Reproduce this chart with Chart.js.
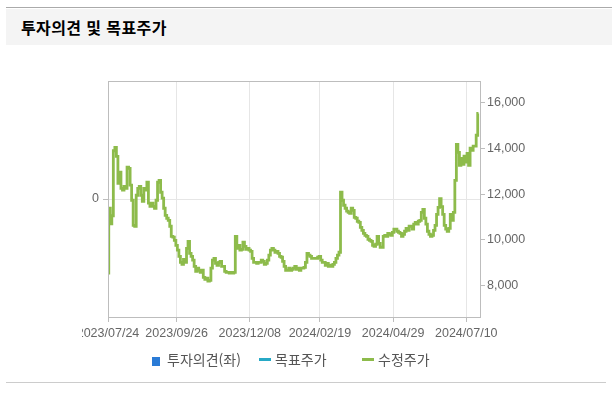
<!DOCTYPE html>
<html lang="ko">
<head>
<meta charset="utf-8">
<title>투자의견 및 목표주가</title>
<script src="https://cdn.jsdelivr.net/npm/chart.js@4.4.1/dist/chart.umd.min.js"></script>
<style>
    html, body {
        margin: 0;
        padding: 0;
        background: #fff;
    }
    #page {
        position: relative;
        width: 612px;
        height: 394px;
        overflow: hidden;
        font-family: "Noto Sans CJK KR", "Noto Sans", sans-serif;
    }
    #topLine {
        position: absolute;
        left: 6px;
        right: 0;
        top: 7px;
        height: 1px;
        background: #aaa;
    }
    #header {
        position: absolute;
        left: 6px;
        right: 0;
        top: 9px;
        height: 36px;
        background: #f4f4f4;
    }
    #header h2 {
        margin: 0;
        position: absolute;
        left: 15px;
        top: 8px;
        font-size: 16px;
        line-height: 20px;
        font-weight: bold;
        letter-spacing: 0.4px;
        color: #000;
    }
    #chartBox {
        position: absolute;
        left: 0;
        top: 0;
        width: 612px;
        height: 394px;
        clip-path: inset(0 0 0 82px);
    }
    #legend {
        position: absolute;
        top: 350px;
        left: 0;
        width: 612px;
        height: 18px;
        font-size: 14px;
        color: #555;
    }
    #legend span {
        position: absolute;
        top: 0;
        line-height: 18px;
        white-space: nowrap;
    }
    .swatch-box {
        display: inline-block;
        width: 8px;
        height: 9px;
    }
    .swatch-line {
        display: inline-block;
        width: 12px;
        height: 3px;
    }
    #bottomLine {
        position: absolute;
        left: 6px;
        right: 6px;
        top: 382px;
        height: 1px;
        background: #ccc;
    }
</style>
</head>
<body>
<div id="page">
    <div id="topLine"></div>
    <div id="header"><h2>투자의견 및 목표주가</h2></div>
    <div id="chartBox"><canvas id="opinion_chart" width="612" height="394"></canvas></div>
    <div id="legend"></div>
    <div id="bottomLine"></div>
</div>
<script>
// tick labels on the bottom axis and the trading-day index they sit on
const tickLabels = ["2023/07/24", "2023/09/26", "2023/12/08", "2024/02/19", "2024/04/29", "2024/07/10"];
const tickDays = [0, 45, 93, 139, 187, 235];
const lastDay = 244;

// right axis ticks
const priceTicks = [8000, 10000, 12000, 14000, 16000];

// 수정주가, one value per trading day starting 2023/07/24
const adjPrice = [
    8530, 11380, 10700, 11050, 13900, 14050, 13650, 12470, 12960, 12250,
    12170, 12340, 12250, 13180, 13130, 12390, 11730, 10630, 10590, 11950,
    12250, 12340, 11950, 11680, 12250, 12170, 12520, 11600, 11460, 11600,
    11460, 11380, 11730, 12520, 12600, 12080, 11820, 11380, 11070, 10940,
    10850, 10590, 10150, 10110, 9970, 9750, 9540, 9270, 9010, 8920,
    9140, 9010, 9620, 9930, 9400, 9270, 9100, 8830, 8610, 8750,
    8660, 8570, 8660, 8350, 8260, 8310, 8180, 8220, 8750, 9100,
    9180, 8960, 8880, 9010, 9050, 8830, 8830, 8610, 8570, 8570,
    8530, 8570, 8530, 8570, 10150, 9620, 9750, 9540, 9580, 9890,
    9710, 9580, 9620, 9540, 9490, 9180, 9010, 9010, 8960, 9010,
    9010, 9100, 9050, 8920, 8960, 9100, 9320, 9540, 9620, 9540,
    9450, 9490, 9400, 9270, 9230, 9050, 8830, 8660, 8660, 8750,
    8660, 8700, 8750, 8830, 8700, 8750, 8660, 8750, 8750, 8790,
    9010, 9400, 9320, 9270, 9180, 9180, 9180, 9180, 9230, 9270,
    9100, 9010, 9010, 8880, 8960, 8830, 8880, 8830, 8920, 9010,
    9180, 9320, 9450, 12080, 11730, 11510, 11380, 11250, 11200, 11160,
    11380, 11290, 10980, 10940, 10810, 10760, 10540, 10410, 10280, 10190,
    10150, 10020, 9970, 9930, 9750, 9710, 9800, 10150, 9840, 9670,
    9670, 10150, 10190, 10150, 10280, 10240, 10190, 10320, 10460, 10460,
    10370, 10320, 10280, 10150, 10240, 10370, 10500, 10410, 10590, 10590,
    10460, 10680, 10760, 10680, 10810, 10850, 11200, 11330, 10940, 10680,
    10370, 10240, 10150, 10190, 10410, 10630, 11110, 11420, 11800, 11450,
    11110, 10630, 10460, 10370, 10500, 11110, 10850, 11200, 12600, 14180,
    13830, 13260, 13570, 13310, 13660, 13400, 13790, 13260, 14010, 13920,
    14100, 14100, 14580, 15540
];

// 투자의견 / 목표주가 have no values in this period
const opinion = [];
const targetPrice = [];

const legendItems = [
    { label: "투자의견(좌)", color: "#2a7bd6", kind: "box", left: 152 },
    { label: "목표주가", color: "#27a9c6", kind: "line", left: 259 },
    { label: "수정주가", color: "#8dbb4b", kind: "line", left: 362 },
];

const gridColor = "#e6e6e6";
const frameColor = "#bdbdbd";
const tickFont = { family: "'Liberation Sans', Arial, sans-serif", size: 12.5 };

// frame on all four sides of the plot
const frameBox = {
    id: "frameBox",
    afterDraw(chart) {
        const { ctx, chartArea } = chart;
        ctx.save();
        ctx.strokeStyle = frameColor;
        ctx.lineWidth = 1;
        ctx.strokeRect(
            Math.round(chartArea.left) + 0.5,
            Math.round(chartArea.top) + 0.5,
            Math.round(chartArea.right - chartArea.left),
            Math.round(chartArea.bottom - chartArea.top)
        );
        ctx.restore();
    },
};

new Chart(document.getElementById("opinion_chart"), {
    data: {
        datasets: [
            {
                type: "bar",
                label: "투자의견(좌)",
                data: opinion,
                backgroundColor: "#2a7bd6",
                yAxisID: "y",
            },
            {
                type: "line",
                label: "목표주가",
                data: targetPrice,
                borderColor: "#27a9c6",
                yAxisID: "y1",
            },
            {
                type: "line",
                label: "수정주가",
                data: adjPrice.map((v, i) => ({ x: i, y: v })),
                borderColor: "#8dbb4b",
                borderWidth: 2.8,
                pointRadius: 0,
                stepped: "middle",
                yAxisID: "y1",
            },
        ],
    },
    options: {
        responsive: false,
        animation: false,
        layout: {
            padding: { left: 0, right: 0, top: 81, bottom: 37 },
        },
        plugins: {
            legend: { display: false },
            tooltip: { enabled: false },
        },
        scales: {
            x: {
                type: "linear",
                min: 0,
                max: lastDay,
                offset: false,
                afterBuildTicks: (scale) => {
                    scale.ticks = tickDays.map((d) => ({ value: d }));
                },
                afterFit: (scale) => {
                    scale.height = 40;
                },
                ticks: {
                    autoSkip: false,
                    maxRotation: 0,
                    padding: 4,
                    color: "#666",
                    font: tickFont,
                    callback: (value) => tickLabels[tickDays.indexOf(value)],
                },
                grid: { offset: false, color: gridColor, tickColor: frameColor, tickLength: 5 },
                border: { color: frameColor },
            },
            y: {
                position: "left",
                min: -1,
                max: 1,
                afterBuildTicks: (scale) => {
                    scale.ticks = [{ value: 0 }];
                },
                afterFit: (scale) => {
                    scale.width = 108;
                },
                ticks: { color: "#666", font: tickFont, padding: 4 },
                grid: { color: gridColor, tickColor: frameColor, tickLength: 5 },
                border: { color: frameColor },
            },
            y1: {
                position: "right",
                min: 6610,
                max: 16960,
                afterBuildTicks: (scale) => {
                    scale.ticks = priceTicks.map((v) => ({ value: v }));
                },
                afterFit: (scale) => {
                    scale.width = 132;
                },
                ticks: {
                    color: "#666",
                    font: tickFont,
                    padding: 2,
                    callback: (value) => value.toLocaleString("en-US"),
                },
                grid: { drawOnChartArea: false, tickColor: frameColor, tickLength: 5 },
                border: { color: frameColor },
            },
        },
    },
    plugins: [frameBox],
});

// legend under the chart
const legendEl = document.getElementById("legend");
legendItems.forEach((item) => {
    const span = document.createElement("span");
    span.style.left = item.left + "px";
    const mark = document.createElement("i");
    mark.className = item.kind === "box" ? "swatch-box" : "swatch-line";
    mark.style.background = item.color;
    mark.style.marginRight = item.kind === "box" ? "7px" : "4px";
    mark.style.verticalAlign = item.kind === "box" ? "-1px" : "4px";
    span.appendChild(mark);
    span.appendChild(document.createTextNode(item.label));
    legendEl.appendChild(span);
});
</script>
</body>
</html>
